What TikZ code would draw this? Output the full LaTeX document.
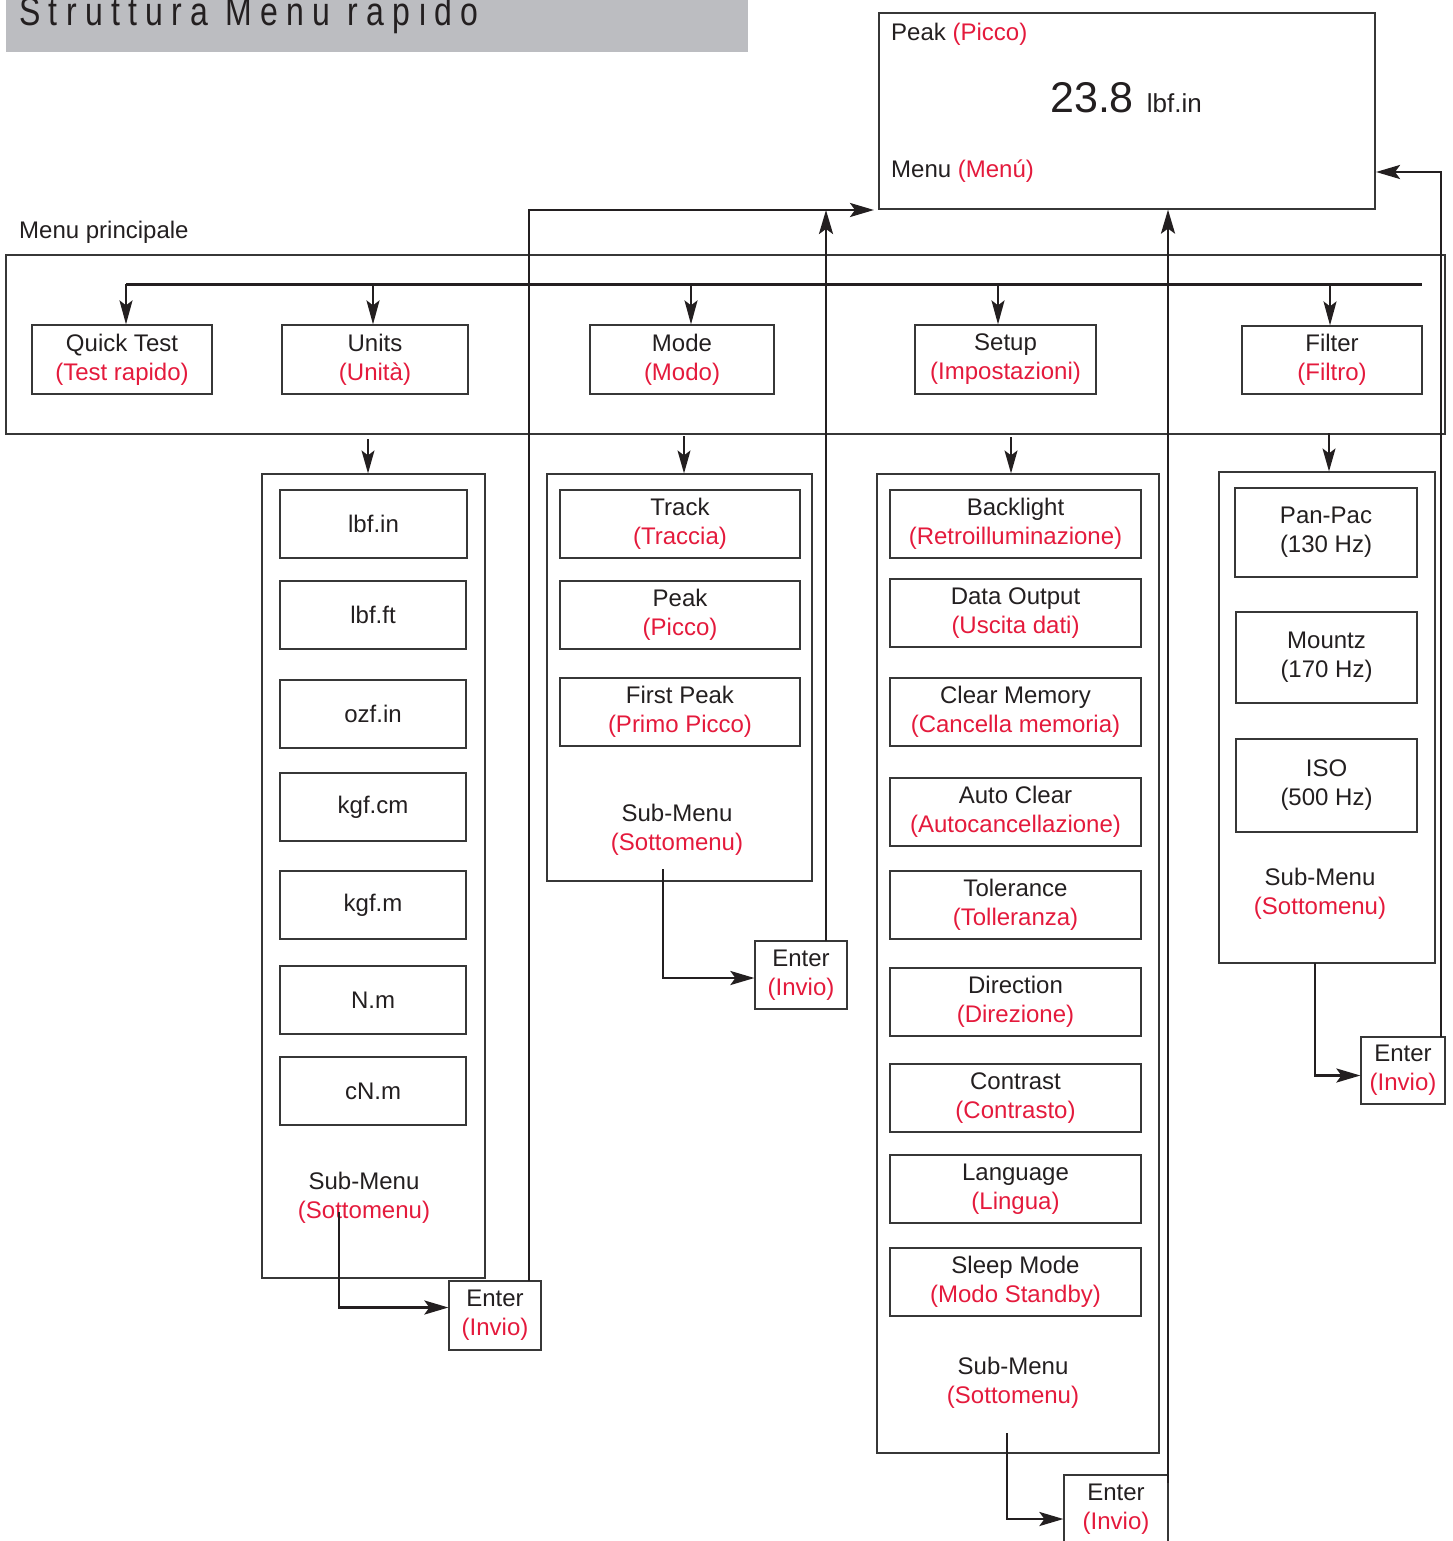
\documentclass[tikz,border=0pt]{standalone}
\usepackage{fontspec}
\setmainfont{Liberation Sans}
\newfontfamily\titlefont[LetterSpace=26]{Liberation Sans}
\usetikzlibrary{arrows.meta,calc}
\definecolor{ired}{RGB}{228,26,60}
\definecolor{ink}{RGB}{35,31,32}
\definecolor{band}{RGB}{188,189,193}
\definecolor{edge}{RGB}{55,55,55}
\tikzset{
  boxstyle/.style={draw=edge,line width=1.2pt,inner sep=0pt,align=center,text=ink,
    font=\fontsize{24}{29}\selectfont},
  txt/.style={inner sep=0pt,align=center,text=ink,font=\fontsize{24}{29}\selectfont},
  conn/.style={draw=ink,line width=2.8pt,line join=miter,
    -{Stealth[length=24pt,width=14pt,inset=5pt]}},
  busline/.style={draw=ink,line width=3pt},
  busarrow/.style={draw=ink,line width=2.2pt,-{Stealth[length=24pt,width=13pt,inset=5pt]}},
  thinarrow/.style={draw=ink,line width=1.7pt,-{Stealth[length=23pt,width=13pt,inset=5pt]}},
}
\newcommand{\bx}[7][]{\node[boxstyle,minimum width={(#5)-(#3)},minimum height={(#6)-(#4)},#1] (#2) at ({((#3)+(#5))/2},{((#4)+(#6))/2}) {#7};}
\newcommand{\rd}[1]{\textcolor{ired}{#1}}
\begin{document}
\begin{tikzpicture}[x=1pt,y=-1pt]
\useasboundingbox (0,0) rectangle (1452,1541);
% title band
\fill[band] (6,0) rectangle (748,52);
\node[anchor=base west,inner sep=0pt,text=ink] (title) at (19,26)
  {\scalebox{0.8}[1]{\titlefont\fontsize{40}{40}\selectfont Struttura Menu rapido}};
% display
\bx{disp}{879}{13}{1375}{209}{}
\node[txt,anchor=west] (dpeak) at (891,34) {Peak \rd{(Picco)}};
\node[txt,anchor=west] (dmenu) at (891,171) {Menu \rd{(Menú)}};
\node[inner sep=0pt,anchor=base west,text=ink] (dval) at (1050,113)
  {\fontsize{43}{43}\selectfont 23.8\hspace{13pt}\fontsize{26}{26}\selectfont lbf.in};
% main menu
\node[txt,anchor=west] (mmlabel) at (19,232) {Menu principale};
\bx{mainbox}{6}{255}{1445}{434}{}
\bx{qt}{32}{325}{212}{394}{Quick Test\\\rd{(Test rapido)}}
\bx{un}{282}{325}{468}{394}{Units\\\rd{(Unità)}}
\bx{mo}{590}{325}{774}{394}{Mode\\\rd{(Modo)}}
\bx{se}{915}{325}{1096}{394}{Setup\\\rd{(Impostazioni)}}
\bx{fi}{1242}{326}{1422}{394}{Filter\\\rd{(Filtro)}}
% units panel
\bx{up}{262}{474}{485}{1278}{}
\bx{u1}{280}{490}{467}{558}{lbf.in}
\bx{u2}{280}{581}{466}{649}{lbf.ft}
\bx{u3}{280}{680}{466}{748}{ozf.in}
\bx{u4}{280}{773}{466}{841}{kgf.cm}
\bx{u5}{280}{871}{466}{939}{kgf.m}
\bx{u6}{280}{966}{466}{1034}{N.m}
\bx{u7}{280}{1057}{466}{1125}{cN.m}
\node[txt] (usub) at (364,1198) {Sub-Menu\\\rd{(Sottomenu)}};
\bx{ue}{449}{1281}{541}{1350}{Enter\\\rd{(Invio)}}
% mode panel
\bx{mp}{547}{474}{812}{881}{}
\bx{m1}{560}{490}{800}{558}{Track\\\rd{(Traccia)}}
\bx{m2}{560}{581}{800}{649}{Peak\\\rd{(Picco)}}
\bx{m3}{560}{678}{800}{746}{First Peak\\\rd{(Primo Picco)}}
\node[txt] (msub) at (677,830) {Sub-Menu\\\rd{(Sottomenu)}};
\bx{me}{755}{941}{847}{1009}{Enter\\\rd{(Invio)}}
% setup panel
\bx{sp}{877}{474}{1159}{1453}{}
\bx{s1}{890}{490}{1141}{558}{Backlight\\\rd{(Retroilluminazione)}}
\bx{s2}{890}{579}{1141}{647}{Data Output\\\rd{(Uscita dati)}}
\bx{s3}{890}{678}{1141}{746}{Clear Memory\\\rd{(Cancella memoria)}}
\bx{s4}{890}{778}{1141}{846}{Auto Clear\\\rd{(Autocancellazione)}}
\bx{s5}{890}{871}{1141}{939}{Tolerance\\\rd{(Tolleranza)}}
\bx{s6}{890}{968}{1141}{1036}{Direction\\\rd{(Direzione)}}
\bx{s7}{890}{1064}{1141}{1132}{Contrast\\\rd{(Contrasto)}}
\bx{s8}{890}{1155}{1141}{1223}{Language\\\rd{(Lingua)}}
\bx{s9}{890}{1248}{1141}{1316}{Sleep Mode\\\rd{(Modo Standby)}}
\node[txt] (ssub) at (1013,1383) {Sub-Menu\\\rd{(Sottomenu)}};
\bx{sen}{1064}{1475}{1168}{1545}{}
\node[txt] (sentxt) at (1116,1509) {Enter\\\rd{(Invio)}};
% filter panel
\bx{fp}{1219}{472}{1435}{963}{}
\bx{f1}{1235}{488}{1417}{577}{Pan-Pac\\(130 Hz)}
\bx{f2}{1236}{612}{1417}{703}{Mountz\\(170 Hz)}
\bx{f3}{1236}{739}{1417}{832}{ISO\\(500 Hz)}
\node[txt] (fsub) at (1320,894) {Sub-Menu\\\rd{(Sottomenu)}};
\bx{fe}{1361}{1037}{1445}{1104}{Enter\\\rd{(Invio)}}
% bus
\coordinate (b0) at (126,284);
\coordinate (b1) at (373,284);
\coordinate (b2) at (691,284);
\coordinate (b3) at (998,284);
\coordinate (b4) at (1330,284);
\coordinate (bend) at (1422,284);
\draw[busline] (b0) -- (bend);
\draw[busarrow] (b0) -- (b0 |- qt.north);
\draw[busarrow] (b1) -- (b1 |- un.north);
\draw[busarrow] (b2) -- (b2 |- mo.north);
\draw[busarrow] (b3) -- (b3 |- se.north);
\draw[busarrow] (b4) -- (b4 |- fi.north);
% arrows into panels
\coordinate (a1) at (368,439);
\coordinate (a2) at (684,436);
\coordinate (a3) at (1011,437);
\coordinate (a4) at (1329,433);
\draw[thinarrow] (a1) -- (a1 |- up.north);
\draw[thinarrow] (a2) -- (a2 |- mp.north);
\draw[thinarrow] (a3) -- (a3 |- sp.north);
\draw[thinarrow] (a4) -- (a4 |- fp.north);
% units -> enter -> display
\coordinate (u0) at (339,1212);
\draw[conn] (u0) |- ($(ue.west)+(0,-8)$);
\coordinate (ur) at (529,1281);
\coordinate (dispL) at (874,210);
\draw[conn] (ur) |- (dispL);
% mode -> enter -> display
\coordinate (m0) at (663,869);
\draw[conn] (m0) |- ($(me.west)+(0,3)$);
\coordinate (mr) at (826,941);
\draw[conn] (mr) -- (mr |- dispL);
% setup -> enter -> display
\coordinate (s0) at (1007,1433);
\draw[conn] (s0) |- ($(sen.west)+(0,9)$);
\coordinate (sr) at (1168,1483);
\draw[conn] (sr) -- (sr |- disp.south);
% filter -> enter -> display
\coordinate (f0) at (1315,963);
\draw[conn] (f0) |- ($(fe.west)+(0,5)$);
\coordinate (fr) at (1441,1037);
\coordinate (dispR) at (1376,172);
\draw[conn] (fr) |- (dispR);
\end{tikzpicture}
\end{document}
